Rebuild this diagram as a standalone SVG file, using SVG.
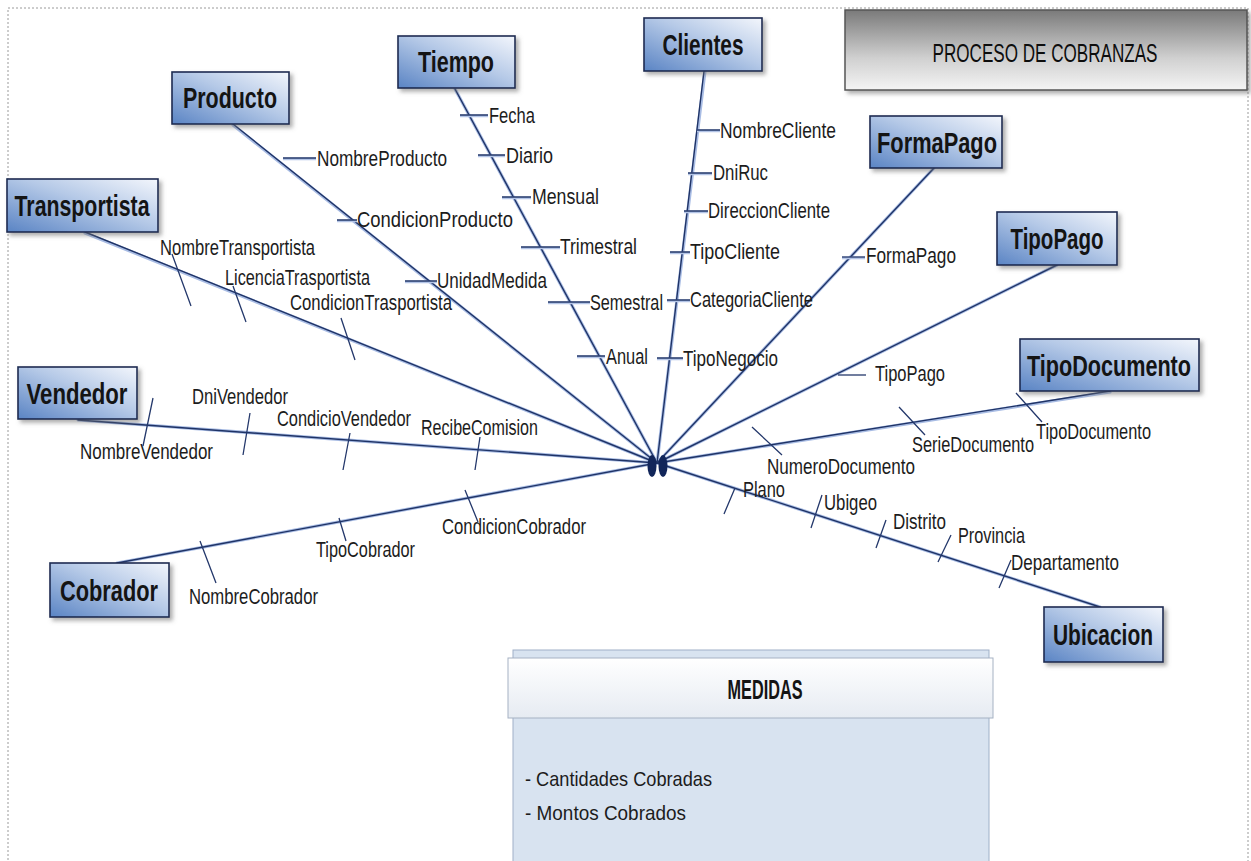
<svg xmlns="http://www.w3.org/2000/svg" width="1251" height="861" viewBox="0 0 1251 861">
  <defs>
    <linearGradient id="nodeFill" x1="0" y1="1" x2="1" y2="0">
      <stop offset="0" stop-color="#5a84c4"/>
      <stop offset="0.55" stop-color="#b5c9e7"/>
      <stop offset="1" stop-color="#f3f6fc"/>
    </linearGradient>
    <linearGradient id="titleFill" x1="0" y1="0" x2="0" y2="1">
      <stop offset="0" stop-color="#7a7a7a"/>
      <stop offset="0.6" stop-color="#d0d0d0"/>
      <stop offset="1" stop-color="#f4f4f4"/>
    </linearGradient>
    <linearGradient id="headFill" x1="0" y1="0" x2="0" y2="1">
      <stop offset="0" stop-color="#ffffff"/>
      <stop offset="1" stop-color="#e6ebf2"/>
    </linearGradient>
    <filter id="shadow" x="-10%" y="-10%" width="130%" height="140%">
      <feDropShadow dx="3" dy="3" stdDeviation="2" flood-color="#6b6b6b" flood-opacity="0.55"/>
    </filter>
    <style>
      .node rect { fill: url(#nodeFill); stroke: #1d2b52; stroke-width: 1.6; filter: url(#shadow); }
      .node text { font-family: "Liberation Sans", Arial, sans-serif; font-weight: bold; font-size: 29px; fill: #141414; text-anchor: middle; }
      .link-glow { stroke: #a8bce4; stroke-width: 3.2; fill: none; stroke-linecap: round; }
      .link { stroke: #1f3366; stroke-width: 1.4; fill: none; stroke-linecap: round; }
      .tick { stroke: #24386b; stroke-width: 1.3; fill: none; }
      .tick-glow { stroke: #b3c4e6; stroke-width: 2.6; fill: none; }
      .attr { font-family: "Liberation Sans", Arial, sans-serif; font-size: 22px; fill: #1c1c1c; }
      .measure { font-family: "Liberation Sans", Arial, sans-serif; font-size: 21px; fill: #1c1c1c; }
    </style>
  </defs>

  <rect width="1251" height="861" fill="#ffffff"/>
  <!-- dotted page frame -->
  <rect x="8" y="8" width="1240" height="870" fill="none" stroke="#9a9a9a" stroke-width="1" stroke-dasharray="2,2"/>

  <!-- title (condensed horizontally) -->
  <g id="title">
    <rect x="845" y="10" width="402" height="80" fill="url(#titleFill)" stroke="#555555" stroke-width="1.5" filter="url(#shadow)"/>
    <text transform="translate(1045 62) scale(0.69 1)" x="0" y="0" font-family="Liberation Sans, Arial, sans-serif" font-size="25" fill="#0d0d0d" text-anchor="middle" textLength="326" lengthAdjust="spacingAndGlyphs">PROCESO DE COBRANZAS</text>
  </g>

  <!-- star connectors from each dimension to the fact hub -->
  <g id="connectors">
    <g class="glow">
      <line class="link-glow" x1="233" y1="125" x2="657" y2="463"/>
      <line class="link-glow" x1="85" y1="233" x2="657" y2="463"/>
      <line class="link-glow" x1="455" y1="89" x2="657" y2="463"/>
      <line class="link-glow" x1="705" y1="71" x2="657" y2="463"/>
      <line class="link-glow" x1="934" y1="168" x2="657" y2="463"/>
      <line class="link-glow" x1="1057" y1="265" x2="657" y2="463"/>
      <line class="link-glow" x1="1110" y1="392" x2="657" y2="463"/>
      <line class="link-glow" x1="78" y1="420" x2="657" y2="463"/>
      <line class="link-glow" x1="117" y1="563" x2="657" y2="463"/>
      <line class="link-glow" x1="1100" y1="607" x2="657" y2="463"/>
    </g>
    <line class="link" x1="233" y1="124" x2="657" y2="463"/>
    <line class="link" x1="85" y1="232" x2="657" y2="463"/>
    <line class="link" x1="455" y1="89" x2="657" y2="463"/>
    <line class="link" x1="704" y1="71" x2="657" y2="463"/>
    <line class="link" x1="934" y1="168" x2="657" y2="463"/>
    <line class="link" x1="1057" y1="265" x2="657" y2="463"/>
    <line class="link" x1="1110" y1="391" x2="657" y2="463"/>
    <line class="link" x1="78" y1="420" x2="657" y2="463"/>
    <line class="link" x1="117" y1="563" x2="657" y2="463"/>
    <line class="link" x1="1100" y1="607" x2="657" y2="463"/>
    <!-- hub -->
    <ellipse cx="652" cy="466" rx="4.5" ry="11" fill="#12265a"/>
    <ellipse cx="663" cy="466" rx="4.5" ry="11" fill="#12265a"/>
  </g>

  <!-- attribute ticks and labels -->
  <g id="attr-tiempo">
    <path class="tick-glow" d="M460 116H488M478 156H505M502 198H531M521 248H560M548 303H590M577 357H605"/>
    <path class="tick" d="M460 115H488M478 155H505M502 197H531M521 247H560M548 302H590M577 356H605"/>
    <text class="attr" x="489" y="123" textLength="46" lengthAdjust="spacingAndGlyphs">Fecha</text>
    <text class="attr" x="506" y="163" textLength="47" lengthAdjust="spacingAndGlyphs">Diario</text>
    <text class="attr" x="532" y="204" textLength="67" lengthAdjust="spacingAndGlyphs">Mensual</text>
    <text class="attr" x="560" y="254" textLength="77" lengthAdjust="spacingAndGlyphs">Trimestral</text>
    <text class="attr" x="590" y="310" textLength="73" lengthAdjust="spacingAndGlyphs">Semestral</text>
    <text class="attr" x="606" y="364" textLength="42" lengthAdjust="spacingAndGlyphs">Anual</text>
  </g>

  <g id="attr-clientes">
    <path class="tick-glow" d="M697 131H720M688 174H712M684 212H708M670 253H690M667 301H690M657 359H683"/>
    <path class="tick" d="M697 130H720M688 173H712M684 211H708M670 252H690M667 300H690M657 358H683"/>
    <text class="attr" x="720" y="138" textLength="116" lengthAdjust="spacingAndGlyphs">NombreCliente</text>
    <text class="attr" x="713" y="180" textLength="55" lengthAdjust="spacingAndGlyphs">DniRuc</text>
    <text class="attr" x="708" y="218" textLength="122" lengthAdjust="spacingAndGlyphs">DireccionCliente</text>
    <text class="attr" x="690" y="259" textLength="90" lengthAdjust="spacingAndGlyphs">TipoCliente</text>
    <text class="attr" x="690" y="307" textLength="123" lengthAdjust="spacingAndGlyphs">CategoriaCliente</text>
    <text class="attr" x="683" y="366" textLength="95" lengthAdjust="spacingAndGlyphs">TipoNegocio</text>
  </g>

  <g id="attr-producto">
    <path class="tick-glow" d="M283 159H316M337 221H357M405 282H437"/>
    <path class="tick" d="M283 158H316M337 220H357M405 281H437"/>
    <text class="attr" x="317" y="166" textLength="130" lengthAdjust="spacingAndGlyphs">NombreProducto</text>
    <text class="attr" x="357" y="227" textLength="156" lengthAdjust="spacingAndGlyphs">CondicionProducto</text>
    <text class="attr" x="437" y="288" textLength="110" lengthAdjust="spacingAndGlyphs">UnidadMedida</text>
  </g>

  <g id="attr-transportista">
    <path class="tick" d="M172 254L191 306M233 286L246 322M341 318L355 360"/>
    <text class="attr" x="160" y="255" textLength="155" lengthAdjust="spacingAndGlyphs">NombreTransportista</text>
    <text class="attr" x="225" y="285" textLength="145" lengthAdjust="spacingAndGlyphs">LicenciaTrasportista</text>
    <text class="attr" x="290" y="310" textLength="162" lengthAdjust="spacingAndGlyphs">CondicionTrasportista</text>
  </g>

  <g id="attr-vendedor">
    <path class="tick" d="M153 398L143 446M250 413L243 455M350 433L343 470M480 437L475 470"/>
    <text class="attr" x="80" y="459" textLength="133" lengthAdjust="spacingAndGlyphs">NombreVendedor</text>
    <text class="attr" x="192" y="404" textLength="96" lengthAdjust="spacingAndGlyphs">DniVendedor</text>
    <text class="attr" transform="translate(277 426) scale(0.714 1)" x="0" y="0" textLength="187.7" lengthAdjust="spacingAndGlyphs">CondicioVendedor</text>
    <text class="attr" x="421" y="435" textLength="117" lengthAdjust="spacingAndGlyphs">RecibeComision</text>
  </g>

  <g id="attr-cobrador">
    <path class="tick" d="M200 541L216 583M339 518L346 541M465 490L478 522"/>
    <text class="attr" x="189" y="604" textLength="129" lengthAdjust="spacingAndGlyphs">NombreCobrador</text>
    <text class="attr" x="316" y="557" textLength="99" lengthAdjust="spacingAndGlyphs">TipoCobrador</text>
    <text class="attr" x="442" y="534" textLength="144" lengthAdjust="spacingAndGlyphs">CondicionCobrador</text>
  </g>

  <g id="attr-formapago">
    <path class="tick-glow" d="M842 258H865"/>
    <path class="tick" d="M842 257H865"/>
    <text class="attr" x="866" y="263" textLength="90" lengthAdjust="spacingAndGlyphs">FormaPago</text>
  </g>

  <g id="attr-tipopago">
    <path class="tick" d="M838 375H866"/>
    <text class="attr" x="875" y="381" textLength="70" lengthAdjust="spacingAndGlyphs">TipoPago</text>
  </g>

  <g id="attr-tipodocumento">
    <path class="tick" d="M752 427L782 455M899 407L925 435M1016 393L1042 422"/>
    <text class="attr" x="767" y="474" textLength="148" lengthAdjust="spacingAndGlyphs">NumeroDocumento</text>
    <text class="attr" transform="translate(912 452) scale(0.745 1)" x="0" y="0" textLength="163.8" lengthAdjust="spacingAndGlyphs">SerieDocumento</text>
    <text class="attr" x="1036" y="439" textLength="115" lengthAdjust="spacingAndGlyphs">TipoDocumento</text>
  </g>

  <g id="attr-ubicacion">
    <path class="tick" d="M735 488L724 514M822 495L811 528M886 520L876 548M951 535L938 562M1011 560L999 588"/>
    <text class="attr" x="743" y="497" textLength="42" lengthAdjust="spacingAndGlyphs">Plano</text>
    <text class="attr" x="824" y="510" textLength="53" lengthAdjust="spacingAndGlyphs">Ubigeo</text>
    <text class="attr" x="893" y="529" textLength="53" lengthAdjust="spacingAndGlyphs">Distrito</text>
    <text class="attr" x="958" y="543" textLength="67" lengthAdjust="spacingAndGlyphs">Provincia</text>
    <text class="attr" x="1011" y="570" textLength="108" lengthAdjust="spacingAndGlyphs">Departamento</text>
  </g>

  <!-- dimension nodes -->
  <g id="node-producto" class="node">
    <rect x="172" y="72" width="117" height="52"/>
    <text x="230" y="108" textLength="94" lengthAdjust="spacingAndGlyphs">Producto</text>
  </g>
  <g id="node-transportista" class="node">
    <rect x="7" y="179" width="151" height="53"/>
    <text x="82" y="216" textLength="135" lengthAdjust="spacingAndGlyphs">Transportista</text>
  </g>
  <g id="node-tiempo" class="node">
    <rect x="398" y="36" width="117" height="52"/>
    <text x="456" y="72" textLength="76" lengthAdjust="spacingAndGlyphs">Tiempo</text>
  </g>
  <g id="node-clientes" class="node">
    <rect x="644" y="18" width="118" height="53"/>
    <text x="703" y="55" textLength="81" lengthAdjust="spacingAndGlyphs">Clientes</text>
  </g>
  <g id="node-formapago" class="node">
    <rect x="870" y="116" width="132" height="52"/>
    <text x="937" y="153" textLength="120" lengthAdjust="spacingAndGlyphs">FormaPago</text>
  </g>
  <g id="node-tipopago" class="node">
    <rect x="997" y="212" width="120" height="53"/>
    <text x="1057" y="249" textLength="93" lengthAdjust="spacingAndGlyphs">TipoPago</text>
  </g>
  <g id="node-tipodocumento" class="node">
    <rect x="1020" y="339" width="179" height="52"/>
    <text x="1109" y="376" textLength="164" lengthAdjust="spacingAndGlyphs">TipoDocumento</text>
  </g>
  <g id="node-vendedor" class="node">
    <rect x="18" y="367" width="119" height="52"/>
    <text x="77" y="404" textLength="101" lengthAdjust="spacingAndGlyphs">Vendedor</text>
  </g>
  <g id="node-cobrador" class="node">
    <rect x="50" y="563" width="119" height="54"/>
    <text x="109" y="601" textLength="98" lengthAdjust="spacingAndGlyphs">Cobrador</text>
  </g>
  <g id="node-ubicacion" class="node">
    <rect x="1044" y="607" width="119" height="55"/>
    <text x="1103" y="645" textLength="100" lengthAdjust="spacingAndGlyphs">Ubicacion</text>
  </g>

  <!-- measures panel -->
  <g id="medidas">
    <rect x="513" y="650" width="476" height="215" fill="#d8e3f0" stroke="#9fb0c8" stroke-width="1"/>
    <rect x="508" y="658" width="485" height="60" fill="url(#headFill)" stroke="#a6b2c3" stroke-width="1"/>
    <text x="765" y="699" font-family="Liberation Sans, Arial, sans-serif" font-size="28" font-weight="bold" fill="#141414" text-anchor="middle" textLength="75" lengthAdjust="spacingAndGlyphs">MEDIDAS</text>
    <text class="measure" x="525" y="786" textLength="187" lengthAdjust="spacingAndGlyphs">- Cantidades Cobradas</text>
    <text class="measure" x="525" y="820" textLength="161" lengthAdjust="spacingAndGlyphs">- Montos Cobrados</text>
  </g>
</svg>
